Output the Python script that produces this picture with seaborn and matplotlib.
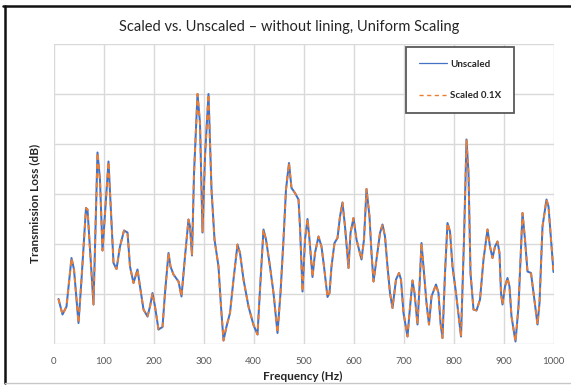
import matplotlib
matplotlib.use("Agg")
import matplotlib.pyplot as plt
from matplotlib.lines import Line2D
import seaborn as sns
import pandas as pd

# ---- data ----
freq_hz = [10, 18, 26, 36, 41, 50, 56, 65, 68, 80, 88, 93, 98, 110, 115, 120, 126, 133, 141, 148,
           153, 160, 168, 173, 180, 188, 193, 198, 203, 210, 218, 223, 230, 234, 240, 250, 256, 263,
           270, 273, 277, 281, 288, 293, 298, 303, 310, 316, 322, 330, 335, 340, 346, 353, 360, 368,
           373, 380, 390, 400, 408, 413, 420, 425, 433, 440, 448, 454, 460, 465, 471, 476, 483, 490,
           493, 498, 503, 508, 512, 518, 523, 530, 536, 541, 548, 552, 556, 562, 568, 573, 578, 583,
           590, 594, 600, 606, 616, 621, 626, 632, 636, 640, 646, 653, 658, 663, 668, 673, 678, 685,
           691, 695, 700, 708, 712, 718, 722, 728, 732, 736, 741, 746, 751, 756, 765, 770, 774, 778,
           783, 788, 793, 798, 805, 815, 821, 826, 830, 834, 840, 846, 853, 860, 868, 873, 878, 883,
           888, 892, 895, 898, 903, 908, 912, 916, 924, 930, 938, 943, 948, 955, 960, 968, 972, 978,
           986, 990, 995, 1000]

tl_unscaled = [9.0, 5.9, 7.5, 17.2, 14.9, 4.2, 12.9, 27.2, 26.9, 7.9, 38.3, 32.8, 18.7, 36.5, 26.2,
               16.2, 15.0, 19.5, 22.7, 22.3, 15.5, 12.2, 14.9, 11.5, 6.9, 5.5, 7.5, 10.2, 7.5, 2.9,
               3.4, 10.2, 18.2, 15.5, 13.9, 12.5, 9.5, 17.5, 24.9, 23.5, 17.7, 34.0, 50.0, 44.2, 22.3,
               37.5, 50.0, 30.9, 20.9, 15.5, 7.5, 0.7, 3.5, 6.2, 12.9, 19.9, 18.2, 12.9, 7.5, 3.8,
               1.9, 10.9, 22.9, 20.9, 15.5, 10.2, 2.2, 10.2, 20.9, 30.9, 36.2, 31.2, 30.2, 28.9,
               23.5, 10.5, 20.9, 25.0, 20.9, 13.4, 18.2, 21.5, 19.5, 15.5, 9.4, 10.2, 15.5, 20.2,
               21.2, 25.5, 28.3, 23.5, 15.2, 22.2, 25.2, 20.9, 16.9, 20.9, 31.0, 25.5, 18.2, 12.5,
               16.9, 22.2, 23.9, 21.5, 15.5, 10.2, 7.2, 12.9, 14.2, 12.9, 6.2, 1.5, 6.2, 12.7, 10.2,
               3.9, 11.5, 20.2, 14.2, 8.2, 3.9, 9.5, 11.9, 10.2, 4.2, 1.2, 14.2, 24.2, 22.5, 15.5,
               10.2, 1.5, 20.9, 40.9, 34.2, 14.2, 6.9, 6.7, 8.9, 16.9, 22.9, 19.5, 17.2, 19.5, 20.5,
               18.2, 10.2, 7.9, 11.5, 13.2, 11.5, 5.5, 0.5, 7.5, 26.2, 20.9, 14.5, 14.2, 10.2, 3.9,
               8.2, 23.5, 28.9, 27.5, 20.9, 14.4]

tl_scaled = [9.0, 5.9, 7.5, 17.2, 14.9, 4.2, 12.9, 27.2, 26.9, 7.9, 38.3, 32.8, 18.7, 36.5, 26.2,
             16.2, 15.0, 19.5, 22.7, 22.3, 15.5, 12.2, 14.9, 11.5, 6.9, 5.5, 7.5, 10.2, 7.5, 2.9,
             3.4, 10.2, 18.2, 15.5, 13.9, 12.5, 9.5, 17.5, 24.9, 23.5, 17.7, 34.0, 50.0, 44.2, 22.3,
             37.5, 50.0, 30.9, 20.9, 15.5, 7.5, 0.7, 3.5, 6.2, 12.9, 19.9, 18.2, 12.9, 7.5, 3.8,
             1.9, 10.9, 22.9, 20.9, 15.5, 10.2, 2.2, 10.2, 20.9, 30.9, 36.2, 31.2, 30.2, 28.9,
             23.5, 10.5, 20.9, 25.0, 20.9, 13.4, 18.2, 21.5, 19.5, 15.5, 9.4, 10.2, 15.5, 20.2,
             21.2, 25.5, 28.3, 23.5, 15.2, 22.2, 25.2, 20.9, 16.9, 20.9, 31.0, 25.5, 18.2, 12.5,
             16.9, 22.2, 23.9, 21.5, 15.5, 10.2, 7.2, 12.9, 14.2, 12.9, 6.2, 1.5, 6.2, 12.7, 10.2,
             3.9, 11.5, 20.2, 14.2, 8.2, 3.9, 9.5, 11.9, 10.2, 4.2, 1.2, 14.2, 24.2, 22.5, 15.5,
             10.2, 1.5, 20.9, 40.9, 34.2, 14.2, 6.9, 6.7, 8.9, 16.9, 22.9, 19.5, 17.2, 19.5, 20.5,
             18.2, 10.2, 7.9, 11.5, 13.2, 11.5, 5.5, 0.5, 7.5, 26.2, 20.9, 14.5, 14.2, 10.2, 3.9,
             8.2, 23.5, 28.9, 27.5, 20.9, 14.4]

x_ticks = [0, 100, 200, 300, 400, 500, 600, 700, 800, 900, 1000]
y_grid = [0, 10, 20, 30, 40, 50, 60]
series_names = ["Unscaled", "Scaled 0.1X"]

title_text = "Scaled vs. Unscaled \u2013 without lining, Uniform Scaling"
x_label = "Frequency (Hz)"
y_label = "Transmission Loss (dB)"

# ---- styling ----
sns.set_style("whitegrid")
plt.rcParams["font.family"] = ["Lato", "DejaVu Sans"]

BLUE = "#4472C4"
ORANGE = "#ED7D31"
GRID = "#D9D9D9"

fig = plt.figure(figsize=(5.71, 3.85), dpi=100)
W, H = 571, 385
ax = fig.add_axes([53.5 / W, 1 - 344 / H, 500 / W, 300 / H])

df = pd.DataFrame({"freq": freq_hz, "unscaled": tl_unscaled, "scaled": tl_scaled})
sns.lineplot(data=df, x="freq", y="unscaled", ax=ax, color=BLUE, linewidth=1.45)
sns.lineplot(data=df, x="freq", y="scaled", ax=ax, color=ORANGE, linewidth=1.35,
             linestyle=(0, (2.6, 2.4)))

ax.set_xlim(0, 1000)
ax.set_ylim(0, 60)
ax.set_xticks(x_ticks)
ax.set_yticks(y_grid)
ax.set_yticklabels([])
ax.tick_params(axis="x", labelsize=7, colors="#595959", length=0, pad=9)
ax.tick_params(axis="y", length=0)
ax.grid(True, color=GRID, linewidth=1.0)
for s in ax.spines.values():
    s.set_visible(False)
ax.set_xlabel("")
ax.set_ylabel("")

handles = [Line2D([], [], color=BLUE, linewidth=0.9),
           Line2D([], [], color=ORANGE, linewidth=1.0, linestyle=(0, (3, 2.5)))]
leg = ax.legend(handles, series_names, loc="upper right", bbox_to_anchor=(0.921, 0.99),
                fontsize=7, handlelength=2.9, labelspacing=2.3, borderpad=1.3,
                handletextpad=0.3, fancybox=False, framealpha=1, borderaxespad=0)
leg.get_frame().set_edgecolor("#595959")
leg.get_frame().set_linewidth(1.3)
for t in leg.get_texts():
    t.set_fontweight("bold")
    t.set_color("#262626")

fig.text(289 / W, 1 - 27 / H, title_text, ha="center", va="center", fontsize=10.5,
         color="#262626")
fig.text(303 / W, 1 - 376 / H, x_label, ha="center", va="center", fontsize=8.5,
         fontweight="bold", color="#262626")
fig.text(35 / W, 1 - 203 / H, y_label, ha="center", va="center", fontsize=8.5,
         fontweight="bold", color="#262626", rotation=90)

# outer frame of the chart
fig.add_artist(Line2D([3 / W, 1], [1 - 6 / H, 1 - 6 / H], color="#111111", linewidth=1.8,
                      transform=fig.transFigure))
fig.add_artist(Line2D([5 / W, 5 / W], [1 - 6 / H, 1 - 383 / H], color="#111111", linewidth=1.8,
                      transform=fig.transFigure))
fig.add_artist(Line2D([5 / W, 1], [1 - 383 / H, 1 - 383 / H], color="#C8C8C8", linewidth=1.0,
                      transform=fig.transFigure))

fig.savefig("out.png", dpi=100)
